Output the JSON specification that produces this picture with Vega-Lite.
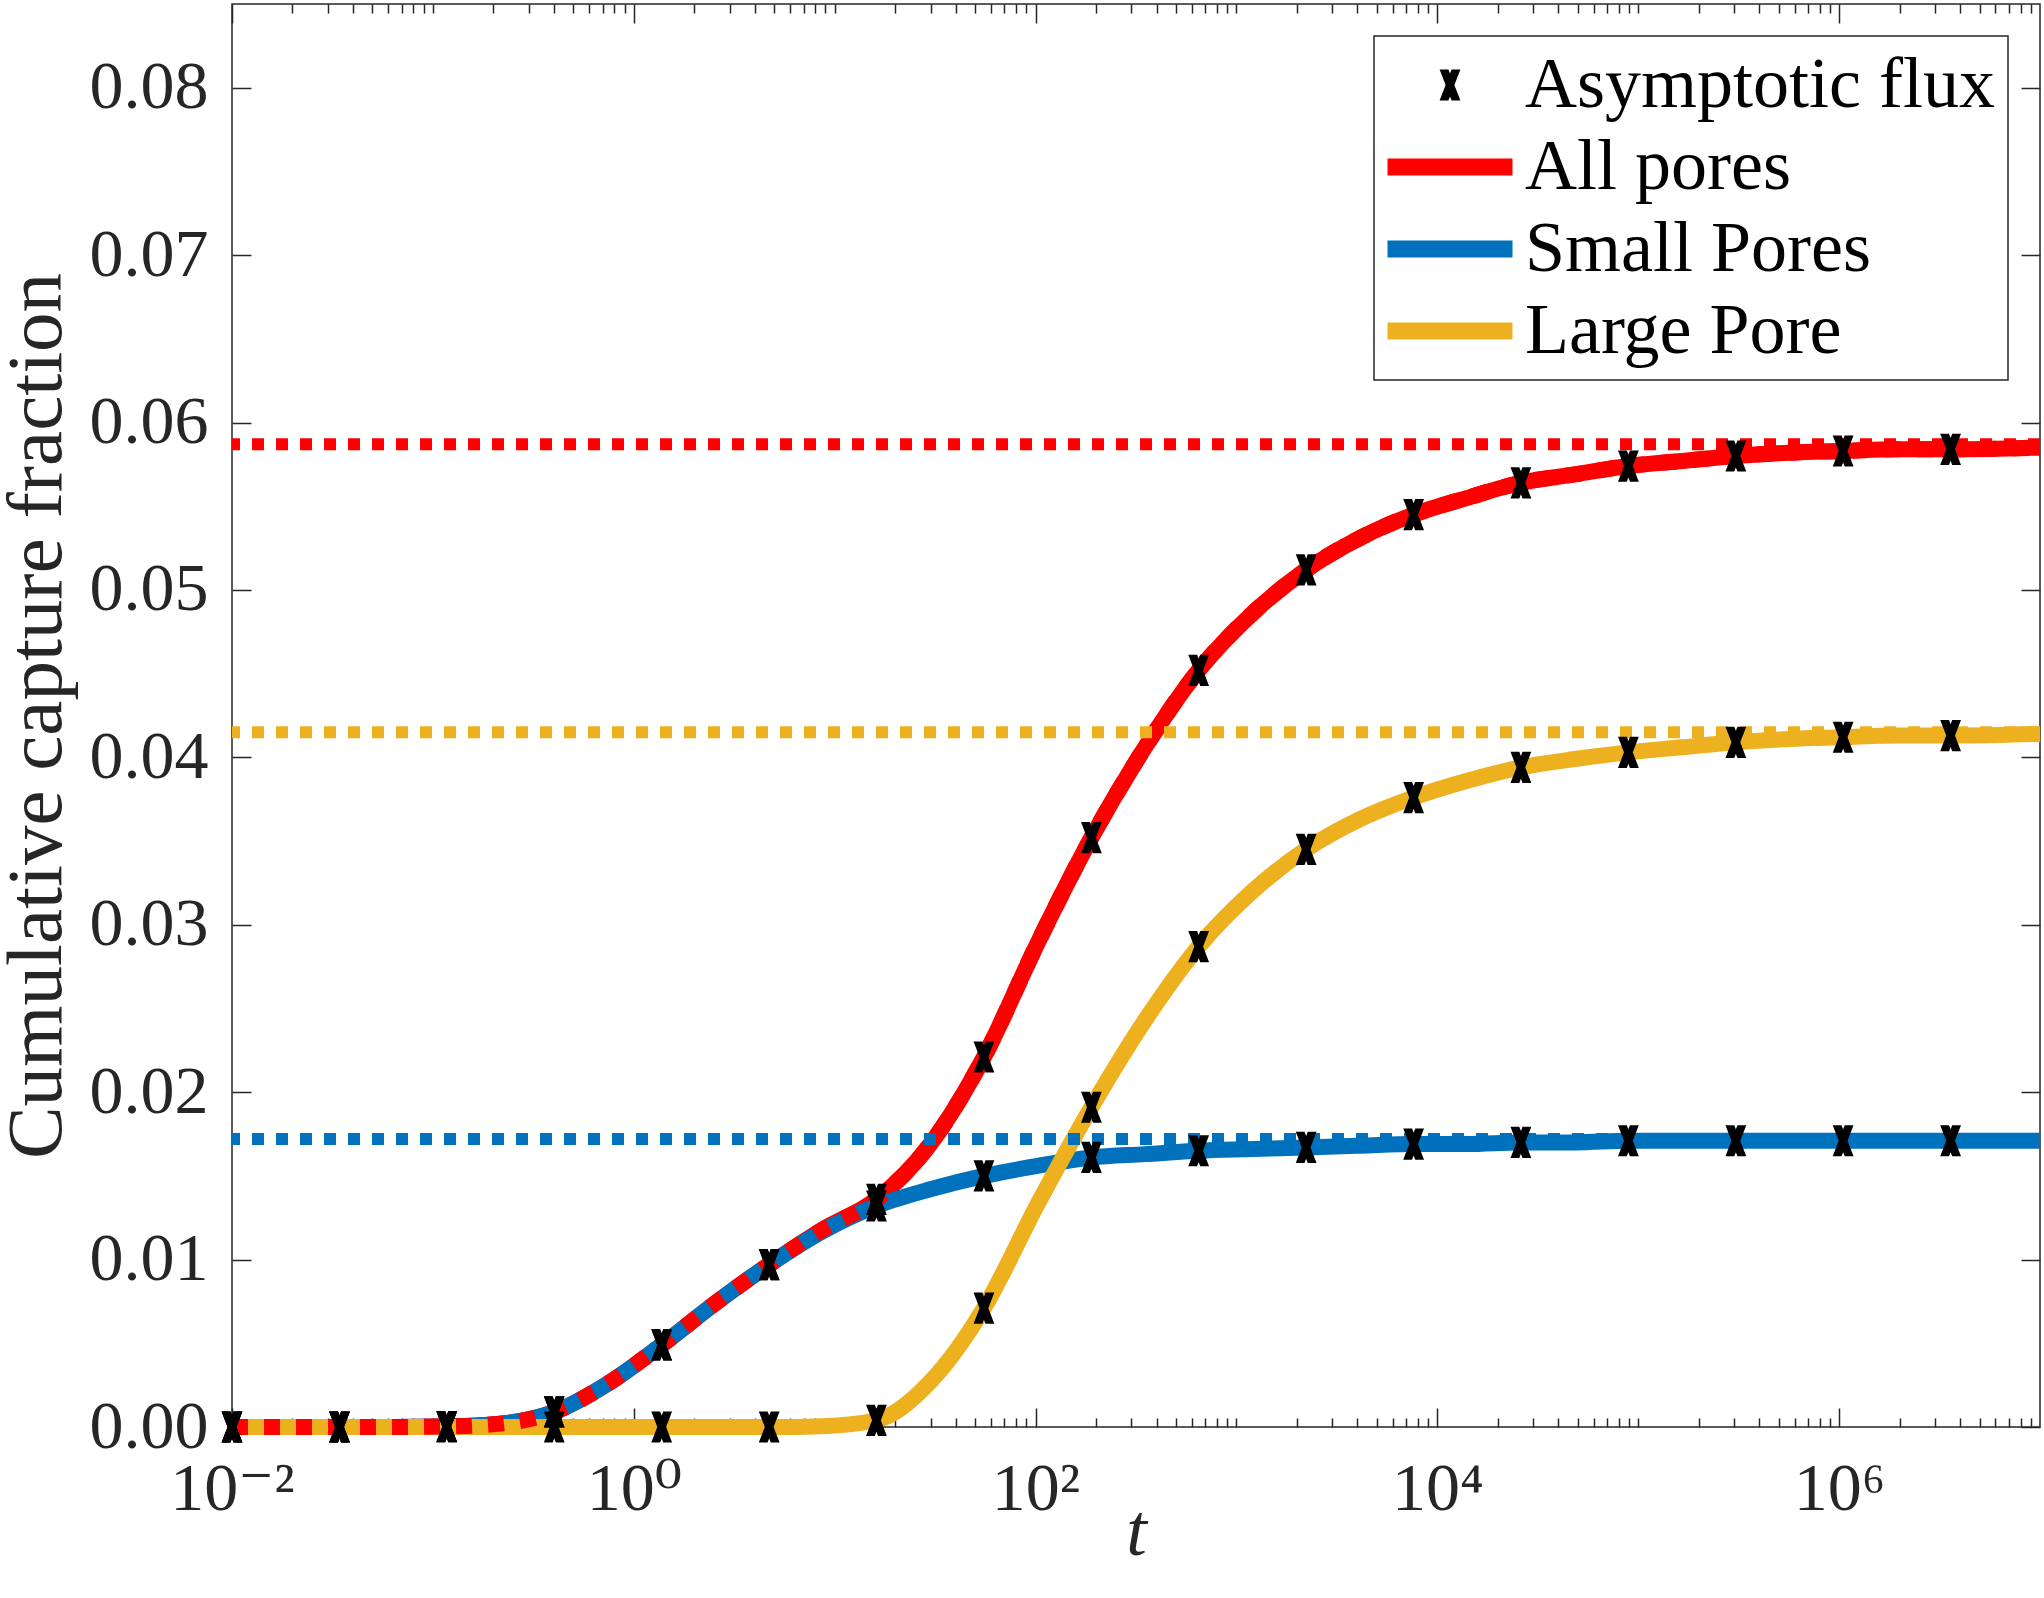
{
  "$schema": "https://vega.github.io/schema/vega-lite/v6.json",
  "width": 1808,
  "height": 1423,
  "autosize": {"type": "none"},
  "padding": {"left": 232, "top": 4, "right": 4, "bottom": 171},
  "background": "white",
  "datasets": {
    "curves": [
      {"t": 0.01, "v": 0, "s": "All pores", "m": 1},
      {"t": 0.0343, "v": 0, "s": "All pores", "m": 1},
      {"t": 0.0634, "v": 0, "s": "All pores", "m": 0},
      {"t": 0.1172, "v": 0.00003, "s": "All pores", "m": 1},
      {"t": 0.2173, "v": 0.0002, "s": "All pores", "m": 0},
      {"t": 0.4018, "v": 0.0009, "s": "All pores", "m": 1},
      {"t": 0.7447, "v": 0.0026, "s": "All pores", "m": 0},
      {"t": 1.377, "v": 0.0049, "s": "All pores", "m": 1},
      {"t": 2.547, "v": 0.0074, "s": "All pores", "m": 0},
      {"t": 4.721, "v": 0.0097, "s": "All pores", "m": 1},
      {"t": 8.73, "v": 0.0118, "s": "All pores", "m": 0},
      {"t": 16.14, "v": 0.0136, "s": "All pores", "m": 1},
      {"t": 29.92, "v": 0.0169, "s": "All pores", "m": 0},
      {"t": 55.34, "v": 0.0221, "s": "All pores", "m": 1},
      {"t": 102.3, "v": 0.0289, "s": "All pores", "m": 0},
      {"t": 189.7, "v": 0.0352, "s": "All pores", "m": 1},
      {"t": 350.8, "v": 0.0406, "s": "All pores", "m": 0},
      {"t": 648.6, "v": 0.0452, "s": "All pores", "m": 1},
      {"t": 1202, "v": 0.0486, "s": "All pores", "m": 0},
      {"t": 2223, "v": 0.0512, "s": "All pores", "m": 1},
      {"t": 4111, "v": 0.0531, "s": "All pores", "m": 0},
      {"t": 7621, "v": 0.0545, "s": "All pores", "m": 1},
      {"t": 14090, "v": 0.0555, "s": "All pores", "m": 0},
      {"t": 26060, "v": 0.0564, "s": "All pores", "m": 1},
      {"t": 48310, "v": 0.0569, "s": "All pores", "m": 0},
      {"t": 89330, "v": 0.0574, "s": "All pores", "m": 1},
      {"t": 165200, "v": 0.0577, "s": "All pores", "m": 0},
      {"t": 306200, "v": 0.058, "s": "All pores", "m": 1},
      {"t": 566200, "v": 0.0582, "s": "All pores", "m": 0},
      {"t": 1047000, "v": 0.0583, "s": "All pores", "m": 1},
      {"t": 1941000, "v": 0.0584, "s": "All pores", "m": 0},
      {"t": 3589000, "v": 0.0584, "s": "All pores", "m": 1},
      {"t": 10000000, "v": 0.0585, "s": "All pores", "m": 0},

      {"t": 0.01, "v": 0, "s": "Small Pores", "m": 1},
      {"t": 0.0343, "v": 0, "s": "Small Pores", "m": 1},
      {"t": 0.0634, "v": 0, "s": "Small Pores", "m": 0},
      {"t": 0.1172, "v": 0.00003, "s": "Small Pores", "m": 1},
      {"t": 0.2173, "v": 0.0002, "s": "Small Pores", "m": 0},
      {"t": 0.4018, "v": 0.0009, "s": "Small Pores", "m": 1},
      {"t": 0.7447, "v": 0.0026, "s": "Small Pores", "m": 0},
      {"t": 1.377, "v": 0.0049, "s": "Small Pores", "m": 1},
      {"t": 2.547, "v": 0.0074, "s": "Small Pores", "m": 0},
      {"t": 4.721, "v": 0.0097, "s": "Small Pores", "m": 1},
      {"t": 8.73, "v": 0.0117, "s": "Small Pores", "m": 0},
      {"t": 16.14, "v": 0.0132, "s": "Small Pores", "m": 1},
      {"t": 29.92, "v": 0.0142, "s": "Small Pores", "m": 0},
      {"t": 55.34, "v": 0.015, "s": "Small Pores", "m": 1},
      {"t": 102.3, "v": 0.0156, "s": "Small Pores", "m": 0},
      {"t": 189.7, "v": 0.0161, "s": "Small Pores", "m": 1},
      {"t": 350.8, "v": 0.0163, "s": "Small Pores", "m": 0},
      {"t": 648.6, "v": 0.0165, "s": "Small Pores", "m": 1},
      {"t": 1202, "v": 0.0166, "s": "Small Pores", "m": 0},
      {"t": 2223, "v": 0.0167, "s": "Small Pores", "m": 1},
      {"t": 4111, "v": 0.0168, "s": "Small Pores", "m": 0},
      {"t": 7621, "v": 0.0169, "s": "Small Pores", "m": 1},
      {"t": 14090, "v": 0.0169, "s": "Small Pores", "m": 0},
      {"t": 26060, "v": 0.017, "s": "Small Pores", "m": 1},
      {"t": 48310, "v": 0.017, "s": "Small Pores", "m": 0},
      {"t": 89330, "v": 0.0171, "s": "Small Pores", "m": 1},
      {"t": 165200, "v": 0.0171, "s": "Small Pores", "m": 0},
      {"t": 306200, "v": 0.0171, "s": "Small Pores", "m": 1},
      {"t": 566200, "v": 0.0171, "s": "Small Pores", "m": 0},
      {"t": 1047000, "v": 0.0171, "s": "Small Pores", "m": 1},
      {"t": 1941000, "v": 0.0171, "s": "Small Pores", "m": 0},
      {"t": 3589000, "v": 0.0171, "s": "Small Pores", "m": 1},
      {"t": 10000000, "v": 0.0171, "s": "Small Pores", "m": 0},

      {"t": 0.01, "v": 0, "s": "Large Pore", "m": 1},
      {"t": 0.0343, "v": 0, "s": "Large Pore", "m": 1},
      {"t": 0.0634, "v": 0, "s": "Large Pore", "m": 0},
      {"t": 0.1172, "v": 0, "s": "Large Pore", "m": 1},
      {"t": 0.2173, "v": 0, "s": "Large Pore", "m": 0},
      {"t": 0.4018, "v": 0, "s": "Large Pore", "m": 1},
      {"t": 0.7447, "v": 0, "s": "Large Pore", "m": 0},
      {"t": 1.377, "v": 0, "s": "Large Pore", "m": 1},
      {"t": 2.547, "v": 0, "s": "Large Pore", "m": 0},
      {"t": 4.721, "v": 0, "s": "Large Pore", "m": 1},
      {"t": 8.73, "v": 0.00005, "s": "Large Pore", "m": 0},
      {"t": 16.14, "v": 0.0004, "s": "Large Pore", "m": 1},
      {"t": 29.92, "v": 0.0027, "s": "Large Pore", "m": 0},
      {"t": 55.34, "v": 0.0071, "s": "Large Pore", "m": 1},
      {"t": 102.3, "v": 0.0133, "s": "Large Pore", "m": 0},
      {"t": 189.7, "v": 0.0191, "s": "Large Pore", "m": 1},
      {"t": 350.8, "v": 0.0243, "s": "Large Pore", "m": 0},
      {"t": 648.6, "v": 0.0287, "s": "Large Pore", "m": 1},
      {"t": 1202, "v": 0.032, "s": "Large Pore", "m": 0},
      {"t": 2223, "v": 0.0345, "s": "Large Pore", "m": 1},
      {"t": 4111, "v": 0.0363, "s": "Large Pore", "m": 0},
      {"t": 7621, "v": 0.0376, "s": "Large Pore", "m": 1},
      {"t": 14090, "v": 0.0386, "s": "Large Pore", "m": 0},
      {"t": 26060, "v": 0.0394, "s": "Large Pore", "m": 1},
      {"t": 48310, "v": 0.0399, "s": "Large Pore", "m": 0},
      {"t": 89330, "v": 0.0403, "s": "Large Pore", "m": 1},
      {"t": 165200, "v": 0.0406, "s": "Large Pore", "m": 0},
      {"t": 306200, "v": 0.0409, "s": "Large Pore", "m": 1},
      {"t": 566200, "v": 0.0411, "s": "Large Pore", "m": 0},
      {"t": 1047000, "v": 0.0412, "s": "Large Pore", "m": 1},
      {"t": 1941000, "v": 0.0413, "s": "Large Pore", "m": 0},
      {"t": 3589000, "v": 0.0413, "s": "Large Pore", "m": 1},
      {"t": 10000000, "v": 0.0414, "s": "Large Pore", "m": 0}
    ],
    "asymptotes": [
      {"v": 0.0587, "s": "All pores"},
      {"v": 0.0172, "s": "Small Pores"},
      {"v": 0.0415, "s": "Large Pore"}
    ]
  },
  "resolve": {
    "scale": {"x": "shared", "y": "shared"},
    "axis": {"x": "independent", "y": "independent"}
  },
  "layer": [
    {
      "data": {"name": "curves"},
      "transform": [{"filter": "datum.s == 'All pores'"}],
      "mark": {"type": "line", "color": "#ff0000", "strokeWidth": 16, "strokeCap": "butt", "strokeJoin": "round", "interpolate": "monotone"},
      "encoding": {
        "x": {
          "field": "t", "type": "quantitative",
          "scale": {"type": "log", "domain": [0.01, 10000000], "nice": false},
          "axis": {
            "orient": "bottom", "values": [0.01, 1, 100, 10000, 1000000],
            "ticks": false, "tickSize": 0, "labelPadding": 28,
            "labelExpr": "'10' + ['⁻²','⁻¹','⁰','¹','²','³','⁴','⁵','⁶','⁷'][round(log(datum.value)/LN10)+2]",
            "title": "t", "titleFontStyle": "italic", "titlePadding": -27
          }
        },
        "y": {
          "field": "v", "type": "quantitative",
          "scale": {"domain": [0, 0.085], "nice": false, "zero": false},
          "axis": {
            "orient": "left", "values": [0, 0.01, 0.02, 0.03, 0.04, 0.05, 0.06, 0.07, 0.08],
            "format": ".2f", "ticks": false, "tickSize": 0, "labelPadding": 24,
            "title": "Cumulative capture fraction", "titleFontSize": 79, "titlePadding": 12
          }
        }
      }
    },
    {
      "data": {"name": "curves"},
      "transform": [{"filter": "datum.s == 'Small Pores'"}],
      "mark": {"type": "line", "color": "#0072bd", "strokeWidth": 16, "strokeCap": "butt", "strokeJoin": "round", "interpolate": "monotone"},
      "encoding": {
        "x": {
          "field": "t", "type": "quantitative",
          "axis": {"orient": "bottom", "values": [0.01, 1, 100, 10000, 1000000], "labels": false, "tickSize": -19, "title": null}
        },
        "y": {
          "field": "v", "type": "quantitative",
          "axis": {"orient": "left", "values": [0, 0.01, 0.02, 0.03, 0.04, 0.05, 0.06, 0.07, 0.08], "labels": false, "tickSize": -19, "title": null}
        }
      }
    },
    {
      "data": {"name": "curves"},
      "transform": [{"filter": "datum.s == 'Large Pore'"}],
      "mark": {"type": "line", "color": "#edb120", "strokeWidth": 16, "strokeCap": "butt", "strokeJoin": "round", "interpolate": "monotone"},
      "encoding": {
        "x": {
          "field": "t", "type": "quantitative",
          "axis": {
            "orient": "bottom", "labels": false, "tickSize": -9, "title": null,
            "values": [0.02,0.03,0.04,0.05,0.06,0.07,0.08,0.09,0.1,0.2,0.3,0.4,0.5,0.6,0.7,0.8,0.9,2,3,4,5,6,7,8,9,10,20,30,40,50,60,70,80,90,200,300,400,500,600,700,800,900,1000,2000,3000,4000,5000,6000,7000,8000,9000,20000,30000,40000,50000,60000,70000,80000,90000,100000,200000,300000,400000,500000,600000,700000,800000,900000,2000000,3000000,4000000,5000000,6000000,7000000,8000000,9000000]
          }
        },
        "y": {
          "field": "v", "type": "quantitative",
          "axis": {"orient": "right", "values": [0, 0.01, 0.02, 0.03, 0.04, 0.05, 0.06, 0.07, 0.08], "labels": false, "tickSize": -19, "title": null}
        }
      }
    },
    {
      "data": {"name": "curves"},
      "transform": [{"filter": "datum.s == 'All pores'"}],
      "mark": {"type": "line", "color": "#ff0000", "strokeWidth": 16, "strokeCap": "butt", "strokeDash": [16, 16], "interpolate": "monotone"},
      "encoding": {
        "x": {
          "field": "t", "type": "quantitative",
          "axis": {"orient": "top", "values": [0.01, 1, 100, 10000, 1000000], "labels": false, "tickSize": -19, "title": null}
        },
        "y": {"field": "v", "type": "quantitative", "axis": null}
      }
    },
    {
      "data": {"name": "asymptotes"},
      "transform": [{"filter": "datum.s == 'All pores'"}],
      "mark": {"type": "rule", "color": "#ff0000", "strokeWidth": 12, "strokeDash": [12, 12], "strokeCap": "butt"},
      "encoding": {"y": {"field": "v", "type": "quantitative", "axis": null}}
    },
    {
      "data": {"name": "asymptotes"},
      "transform": [{"filter": "datum.s == 'Small Pores'"}],
      "mark": {"type": "rule", "color": "#0072bd", "strokeWidth": 12, "strokeDash": [12, 12], "strokeCap": "butt"},
      "encoding": {"y": {"field": "v", "type": "quantitative", "axis": null}}
    },
    {
      "data": {"name": "asymptotes"},
      "transform": [{"filter": "datum.s == 'Large Pore'"}],
      "mark": {"type": "rule", "color": "#edb120", "strokeWidth": 12, "strokeDash": [12, 12], "strokeCap": "butt"},
      "encoding": {"y": {"field": "v", "type": "quantitative", "axis": null}}
    },
    {
      "data": {"name": "curves"},
      "transform": [{"filter": "datum.m == 1"}],
      "mark": {"type": "point", "filled": true, "opacity": 1, "size": 1600, "strokeWidth": 0},
      "encoding": {
        "x": {
          "field": "t", "type": "quantitative",
          "axis": {
            "orient": "top", "labels": false, "tickSize": -9, "title": null,
            "values": [0.02,0.03,0.04,0.05,0.06,0.07,0.08,0.09,0.1,0.2,0.3,0.4,0.5,0.6,0.7,0.8,0.9,2,3,4,5,6,7,8,9,10,20,30,40,50,60,70,80,90,200,300,400,500,600,700,800,900,1000,2000,3000,4000,5000,6000,7000,8000,9000,20000,30000,40000,50000,60000,70000,80000,90000,100000,200000,300000,400000,500000,600000,700000,800000,900000,2000000,3000000,4000000,5000000,6000000,7000000,8000000,9000000]
          }
        },
        "y": {"field": "v", "type": "quantitative", "axis": null},
        "color": {
          "datum": "Asymptotic flux", "type": "nominal",
          "scale": {"domain": ["Asymptotic flux", "All pores", "Small Pores", "Large Pore"], "range": ["#000000", "#ff0000", "#0072bd", "#edb120"]},
          "legend": {"title": null}
        },
        "shape": {
          "datum": "Asymptotic flux", "type": "nominal",
          "scale": {
            "domain": ["Asymptotic flux", "All pores", "Small Pores", "Large Pore"],
            "range": [
              "M-0.52,-0.78H-0.08L0,-0.572L0.08,-0.78H0.52L0.22,0L0.52,0.78H0.08L0,0.572L-0.08,0.78H-0.52L-0.22,0Z",
              "M-3.125,-0.425H3.125V0.425H-3.125Z",
              "M-3.125,-0.425H3.125V0.425H-3.125Z",
              "M-3.125,-0.425H3.125V0.425H-3.125Z"
            ]
          },
          "legend": {"title": null}
        }
      }
    }
  ],
  "config": {
    "font": "Liberation Serif, DejaVu Serif, serif",
    "view": {"stroke": "#262626", "strokeWidth": 1.5},
    "axis": {
      "grid": false,
      "domain": false,
      "labelFont": "Liberation Serif, DejaVu Serif, serif",
      "titleFont": "Liberation Serif, DejaVu Serif, serif",
      "labelFontSize": 68,
      "titleFontSize": 74,
      "titleFontWeight": "normal",
      "labelColor": "#262626",
      "titleColor": "#262626",
      "tickColor": "#262626",
      "tickWidth": 1.5,
      "labelFlush": false,
      "labelOverlap": false
    },
    "legend": {
      "orient": "top-right",
      "offset": 32,
      "padding": 13,
      "strokeColor": "#262626",
      "strokeWidth": 1.5,
      "fillColor": "white",
      "symbolSize": 1600,
      "symbolOffset": 27,
      "symbolStrokeWidth": 0,
      "labelOffset": 39,
      "labelFont": "Liberation Serif, DejaVu Serif, serif",
      "labelFontSize": 72,
      "labelColor": "#000000",
      "labelLimit": 0,
      "rowPadding": 10
    }
  }
}
